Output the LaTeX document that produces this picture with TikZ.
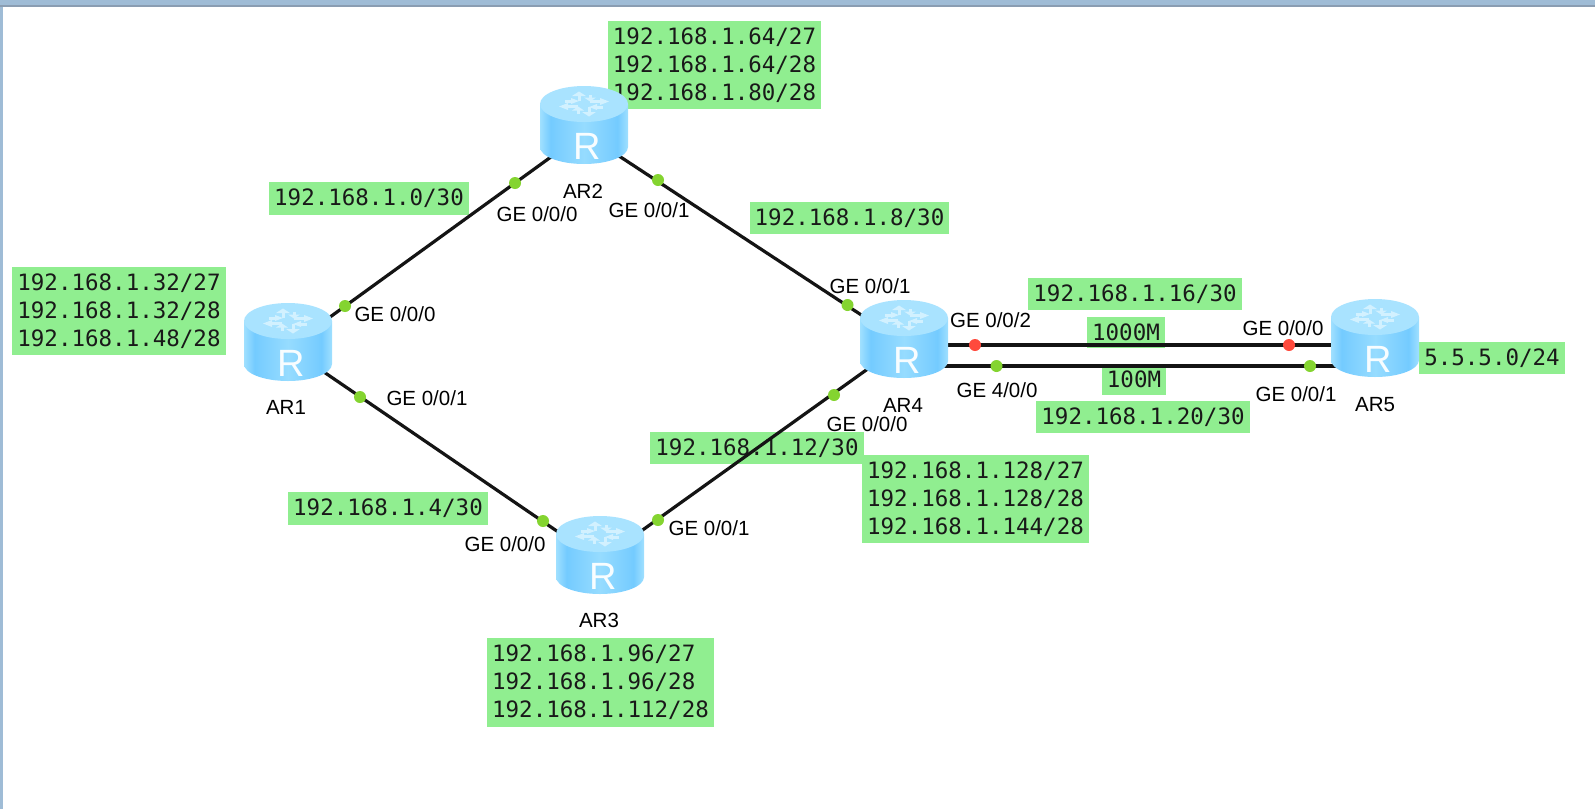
\documentclass[tikz,border=0pt]{standalone}
\usepackage{fontspec}
\setmainfont{Liberation Sans}
\setmonofont{DejaVu Sans Mono}
\usepackage{tikz}

\definecolor{netgreen}{HTML}{90EE90}
\definecolor{portgreen}{HTML}{84D430}
\definecolor{portred}{HTML}{FF4A3D}
\definecolor{barblue}{HTML}{9FBCD6}
\definecolor{bardark}{HTML}{8A9DB2}
\definecolor{routertop}{HTML}{A9E3FF}
\definecolor{routermark}{HTML}{D2F1FF}
\definecolor{routeredge}{HTML}{A0E0FF}
\definecolor{routerdeep}{HTML}{74CBFF}
\definecolor{routermid}{HTML}{96DCFF}
\pgfdeclarehorizontalshading{routerbody}{100bp}{
    color(0bp)=(routeredge);
    color(25bp)=(routeredge);
    color(31bp)=(routerdeep);
    color(50bp)=(routermid);
    color(69bp)=(routerdeep);
    color(75bp)=(routeredge);
    color(100bp)=(routeredge)}

\tikzset{
    net/.style={fill=netgreen, inner xsep=5pt, inner ysep=7pt, align=left,
        text=black!90, font=\fontsize{22.5}{28}\selectfont\ttfamily},
    iface/.style={font=\fontsize{20.5}{24}\selectfont, inner sep=0pt},
    link/.style={draw=black!92, line width=3.2pt},
    okport/.style={circle, fill=portgreen, minimum size=12pt, inner sep=0pt},
    badport/.style={circle, fill=portred, minimum size=12pt, inner sep=0pt},
    routerarrow/.style={routermark, line width=3pt},
    router/.pic={
        \path[shading=routerbody] (-44,-21) -- (-44,22) arc[start angle=180, end angle=0, x radius=44, y radius=17] -- (44,-21) -- cycle;
        \fill[routertop] (0,-21) ellipse [x radius=44, y radius=18];
        \foreach \ang in {0,90,180,270} {
            \begin{scope}[yshift=21pt, yscale=.5, rotate=\ang]
                \draw[routerarrow] (6,-5) -- (17,-5);
                \fill[routermark] (25,-5) -- (16,-12) -- (16,2) -- cycle;
                \draw[routerarrow] (19,6) -- (12,6);
                \fill[routermark] (5,6) -- (13,0) -- (13,12) -- cycle;
            \end{scope}
        }
        \node[text=white!85!routermark, font=\fontsize{38}{38}\selectfont, inner sep=0pt] (-R) at (3,21) {R};
    }
}

\begin{document}
\begin{tikzpicture}[x=1pt, y=-1pt]
        \useasboundingbox (0,0) rectangle (1595,809);
        \fill[white] (0,0) rectangle (1595,809);
        \fill[barblue] (0,0) rectangle (1595,5);
        \fill[bardark] (0,5) rectangle (1595,7);
        \fill[barblue] (0,7) rectangle (3,809);
        
        % router centres and the points the links aim at
        \coordinate (AR1) at (288,342);
        \coordinate (AR2) at (584,125);
        \coordinate (AR3) at (600,555);
        \coordinate (AR4) at (904,339);
        \coordinate (AR5) at (1375,338);
        \coordinate (AR1p) at (288,347.5);
        \coordinate (AR2p) at (584,133);
        \coordinate (AR3p) at (600,560.5);
        \coordinate (AR4p) at (904,343);
        \coordinate (AR4a) at (904,345);
        \coordinate (AR5a) at (1375,345);
        \coordinate (AR4b) at (904,366);
        \coordinate (AR5b) at (1375,366);
        
        % networks
        \node[net] (netA) at (369,198.5) {192.168.1.0/30};
        \node[net] (netB) at (849.5,218) {192.168.1.8/30};
        \node[net] (netC) at (388,508.5) {192.168.1.4/30};
        \node[net] (netD) at (757,448) {192.168.1.12/30};
        \node[net] (netE) at (1135,294) {192.168.1.16/30};
        \node[net] (netF) at (1143,417) {192.168.1.20/30};
        \node[net] (speedA) at (1126,332.5) {1000M};
        \node[net] (speedB) at (1134,379.5) {100M};
        \node[net] (netG) at (1492,358) {5.5.5.0/24};
        \node[net] (lanA) at (119,311) {192.168.1.32/27\\192.168.1.32/28\\192.168.1.48/28};
        \node[net] (lanB) at (714.5,65) {192.168.1.64/27\\192.168.1.64/28\\192.168.1.80/28};
        \node[net] (lanC) at (600.5,682.5) {192.168.1.96/27\\192.168.1.96/28\\192.168.1.112/28};
        \node[net] (lanD) at (975.5,499) {192.168.1.128/27\\192.168.1.128/28\\192.168.1.144/28};
        
        % links
        \draw[link] (AR1p) -- (AR2p);
        \draw[link] (AR2p) -- (AR4p);
        \draw[link] (AR1p) -- (AR3p);
        \draw[link] (AR3p) -- (AR4p);
        \draw[link] (AR4a) -- (AR5a);
        \draw[link] (AR4b) -- (AR5b);
        
        \pic (iconA) at (AR1) {router};
        \pic (iconB) at (AR2) {router};
        \pic (iconC) at (AR3) {router};
        \pic (iconD) at (AR4) {router};
        \pic (iconE) at (AR5) {router};
        
        % ports
        \node[okport] (pA) at (345,306) {};
        \node[okport] (pB) at (360,397) {};
        \node[okport] (pC) at (515,183) {};
        \node[okport] (pD) at (658,180) {};
        \node[okport] (pE) at (543,521) {};
        \node[okport] (pF) at (658,520) {};
        \node[okport] (pG) at (847.5,305) {};
        \node[okport] (pH) at (834,395) {};
        \node[okport] (pI) at (996.5,366) {};
        \node[okport] (pJ) at (1310,366) {};
        \node[badport] (pK) at (975,345) {};
        \node[badport] (pL) at (1289,345) {};
        
        % names
        \node[iface] (nameA) at (286,407) {AR1};
        \node[iface] (nameB) at (583,191) {AR2};
        \node[iface] (nameC) at (599,620.5) {AR3};
        \node[iface] (nameD) at (903,405) {AR4};
        \node[iface] (nameE) at (1375,405) {AR5};
        
        \node[iface] (geA) at (395,314) {GE 0/0/0};
        \node[iface] (geB) at (427,398) {GE 0/0/1};
        \node[iface] (geC) at (537,214) {GE 0/0/0};
        \node[iface] (geD) at (649,210) {GE 0/0/1};
        \node[iface] (geE) at (505,544) {GE 0/0/0};
        \node[iface] (geF) at (709,528) {GE 0/0/1};
        \node[iface] (geG) at (870,286) {GE 0/0/1};
        \node[iface] (geH) at (867,424) {GE 0/0/0};
        \node[iface] (geI) at (990.5,320) {GE 0/0/2};
        \node[iface] (geJ) at (997,390) {GE 4/0/0};
        \node[iface] (geK) at (1283,328) {GE 0/0/0};
        \node[iface] (geL) at (1296,394) {GE 0/0/1};
        
    \end{tikzpicture}
\end{document}
